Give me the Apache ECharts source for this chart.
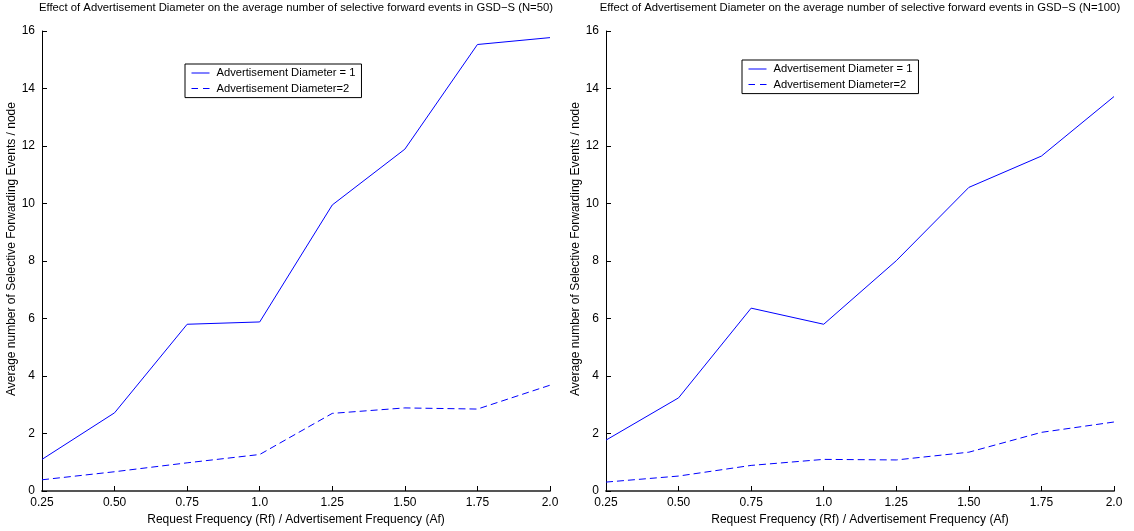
<!DOCTYPE html>
<html>
<head>
<meta charset="utf-8">
<script src="https://cdn.jsdelivr.net/npm/echarts@6/dist/echarts.min.js"></script>
<style>
  html, body { margin: 0; padding: 0; background: #fff; }
  #chart { width: 1134px; height: 531px; }
</style>
</head>
<body>
<div id="chart"></div>
<script>
// Ratio Rf / Af on the horizontal axis
const ratios = ['0.25', '0.50', '0.75', '1.0', '1.25', '1.50', '1.75', '2.0'];

// N = 50 nodes
const n50Diameter1 = [1.10, 2.72, 5.80, 5.88, 9.95, 11.89, 15.53, 15.77];
const n50Diameter2 = [0.39, 0.67, 0.98, 1.27, 2.70, 2.89, 2.85, 3.68];

// N = 100 nodes
const n100Diameter1 = [1.77, 3.24, 6.36, 5.80, 8.01, 10.56, 11.65, 13.72];
const n100Diameter2 = [0.31, 0.52, 0.89, 1.10, 1.08, 1.35, 2.04, 2.40];

const titles = [
  'Effect of Advertisement Diameter on the average number of selective forward events in GSD\u2212S (N=50)',
  'Effect of Advertisement Diameter on the average number of selective forward events in GSD\u2212S (N=100)'
];
const seriesNames = ['Advertisement Diameter = 1', 'Advertisement Diameter=2'];
const xName = 'Request Frequency (Rf) / Advertisement Frequency (Af)';
const yName = 'Average number of Selective Forwarding Events / node';

const FONT = '"Liberation Sans", Arial, sans-serif';
const grids = [
  { left: 42, top: 31, width: 508, height: 461 },
  { left: 606, top: 31, width: 508, height: 461 }
];
const legendPos = [
  { left: 185, top: 64 },
  { left: 742, top: 60 }
];
// Legend keys: thin filled bars, one solid and one broken into two dashes
const solidKey = 'path://M0,0h18v1h-18z';
const dashedKey = 'path://M0,0h6.5v1h-6.5z M11.5,0h6.5v1h-6.5z';

function xAxis(i) {
  return {
    type: 'category', gridIndex: i, data: ratios, boundaryGap: false,
    name: xName, nameLocation: 'middle', nameGap: 23,
    nameTextStyle: { fontFamily: FONT, fontSize: 12, color: '#000' },
    axisLine: { lineStyle: { color: '#555', width: 2 } },
    axisTick: { inside: true, length: 5, lineStyle: { color: '#000', width: 1 } },
    axisLabel: { fontFamily: FONT, fontSize: 12, color: '#000', margin: 6 },
    splitLine: { show: false }
  };
}
function yAxis(i) {
  return {
    type: 'value', gridIndex: i, min: 0, max: 16, interval: 2,
    name: yName, nameLocation: 'middle', nameGap: 19,
    nameTextStyle: { fontFamily: FONT, fontSize: 12, color: '#000', padding: [0, 0, 0, 24] },
    axisLine: { show: true, lineStyle: { color: '#000', width: 1 } },
    axisTick: { show: true, inside: true, length: 5, lineStyle: { color: '#000' } },
    axisLabel: { fontFamily: FONT, fontSize: 12, color: '#000', margin: 7 },
    splitLine: { show: false }
  };
}
function line(i, name, data, dashed) {
  return {
    type: 'line', name: name, xAxisIndex: i, yAxisIndex: i, data: data,
    symbol: 'none', silent: true, animation: false,
    lineStyle: { color: '#0000ff', width: 1, type: dashed ? [7, 4] : 'solid' },
    itemStyle: { color: '#0000ff' }
  };
}
function legend(i) {
  return {
    data: [
      { name: seriesNames[0], icon: solidKey },
      { name: seriesNames[1], icon: dashedKey }
    ],
    orient: 'vertical',
    left: legendPos[i].left, top: legendPos[i].top,
    backgroundColor: '#fff', borderColor: '#000', borderWidth: 1,
    padding: [2.5, 6, 2.5, 6.5], itemGap: 2.6, itemWidth: 18, itemHeight: 1,
    selectedMode: false,
    textStyle: { fontFamily: FONT, fontSize: 11.2, lineHeight: 13, color: '#000', padding: [0, 0, 0, 2] }
  };
}

const chart = echarts.init(document.getElementById('chart'), null, { renderer: 'canvas' });
chart.setOption({
  animation: false,
  backgroundColor: '#fff',
  title: titles.map((t, i) => ({
    text: t, left: grids[i].left + grids[i].width / 2, top: 2, padding: 0, textAlign: 'center',
    textStyle: { fontFamily: FONT, fontSize: 11.3, fontWeight: 'normal', color: '#000' }
  })),
  grid: grids,
  legend: [legend(0), legend(1)],
  xAxis: [xAxis(0), xAxis(1)],
  yAxis: [yAxis(0), yAxis(1)],
  series: [
    line(0, seriesNames[0], n50Diameter1, false),
    line(0, seriesNames[1], n50Diameter2, true),
    line(1, seriesNames[0], n100Diameter1, false),
    line(1, seriesNames[1], n100Diameter2, true)
  ]
});
</script>
</body>
</html>
